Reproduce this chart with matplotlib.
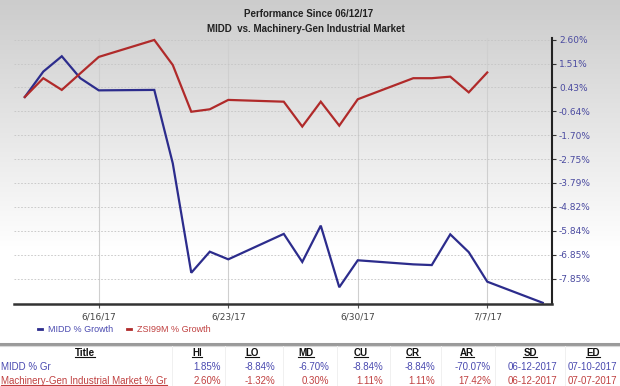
import numpy as np
import pandas as pd
import matplotlib
matplotlib.use("Agg")
import matplotlib.pyplot as plt
from matplotlib.lines import Line2D

# data (% growth since 06/12/17)
dates = ['2017-06-12', '2017-06-13', '2017-06-14', '2017-06-15', '2017-06-16',
         '2017-06-19', '2017-06-20', '2017-06-21', '2017-06-22', '2017-06-23',
         '2017-06-26', '2017-06-27', '2017-06-28', '2017-06-29', '2017-06-30',
         '2017-07-03', '2017-07-04', '2017-07-05', '2017-07-06', '2017-07-07',
         '2017-07-10']
midd = [0.0, 1.15, 1.85, 0.85, 0.30, 0.32, -2.94, -7.60, -6.72, -7.04,
        -5.97, -7.15, -5.62, -8.20, -7.08, -7.25, -7.28, -5.99, -6.74, -7.97,
        -8.84]
zsi = [0.0, 0.85, 0.32, 1.07, 1.82, 2.60, 1.45, -0.66, -0.55, -0.13,
       -0.21, -1.32, -0.21, -1.28, -0.10, 0.85, 0.85, 0.92, 0.21, 1.11]

y_ticks = [2.60, 1.51, 0.43, -0.64, -1.70, -2.75, -3.79, -4.82, -5.84, -6.85, -7.85]
x_ticks = ['2017-06-16', '2017-06-23', '2017-06-30', '2017-07-07']
x_labels = ['6/16/17', '6/23/17', '6/30/17', '7/7/17']

tbl_head = ['Title', 'HI', 'LO', 'MD', 'CU', 'CR', 'AR', 'SD', 'ED']
tbl_midd = ['MIDD % Gr', '1.85%', '-8.84%', '-6.70%', '-8.84%', '-8.84%', '-70.07%', '06-12-2017', '07-10-2017']
tbl_zsi = ['Machinery-Gen Industrial Market % Gr', '2.60%', '-1.32%', '0.30%', '1.11%', '1.11%', '17.42%', '06-12-2017', '07-07-2017']

BLUE = '#2c2c8c'
RED = '#b02a2a'
TICKC = '#4a4aa0'

W, H = 620, 386
fig = plt.figure(figsize=(W / 100, H / 100), dpi=100)

# background gradient (grey on top fading to white)
bg = fig.add_axes([0, 0, 1, 1], zorder=-10)
grad = np.ones((H, 1))
top = 0.80
for i in range(H):
    t = min(i / 250.0, 1.0)
    grad[i, 0] = top + (1 - top) * t
bg.imshow(np.dstack([grad] * 3), aspect='auto', extent=[0, 1, 0, 1])
bg.set_axis_off()

def fx(px):
    return px / W

def fy(py):
    return 1 - py / H

ax = fig.add_axes([fx(14), fy(304), fx(552) - fx(14), fy(38) - fy(304)])
ax.patch.set_alpha(0)

d = pd.to_datetime(dates)
ax.plot(d, [1 + v / 100 for v in midd], color=BLUE, lw=1.6, solid_joinstyle='miter')
ax.plot(d[:len(zsi)], [1 + v / 100 for v in zsi], color=RED, lw=1.6, solid_joinstyle='miter')

ax.set_yscale('log')
ax.set_ylim(0.91111, 1.0269)
x0 = pd.Timestamp('2017-06-12')
ax.set_xlim(x0 - pd.Timedelta(hours=14), x0 + pd.Timedelta(hours=684))

ax.yaxis.tick_right()
ax.set_yticks([1 + t / 100 for t in y_ticks])
ax.set_yticklabels(['%.2f%%' % t for t in y_ticks])
ax.yaxis.set_minor_locator(matplotlib.ticker.NullLocator())
ax.set_xticks(pd.to_datetime(x_ticks))
ax.set_xticklabels(x_labels)
ax.xaxis.set_minor_locator(matplotlib.ticker.NullLocator())

ax.tick_params(axis='y', colors='#333333', labelcolor=TICKC, labelsize=6.5,
               length=3, width=0.8, pad=2)
ax.tick_params(axis='x', colors='#555555', labelcolor='#444444', labelsize=6.5,
               length=3, width=0.8, pad=3)
for lab in ax.get_xticklabels() + ax.get_yticklabels():
    lab.set_fontfamily('DejaVu Sans')

ax.grid(axis='y', color='#c4c4c4', ls=(0, (2, 2)), lw=0.6)
ax.grid(axis='x', color='#cfcfcf', ls='-', lw=0.8)
for s in ['left', 'top']:
    ax.spines[s].set_visible(False)
ax.spines['right'].set_color('#222222')
ax.spines['right'].set_linewidth(1.5)
ax.spines['bottom'].set_color('#333333')
ax.spines['bottom'].set_linewidth(1.8)

# title
fig.text(0.497, fy(14), 'Performance Since 06/12/17', ha='center', va='center',
         fontsize=7, fontweight='bold', family='Liberation Sans', color='#222222')
fig.text(0.493, fy(29), 'MIDD  vs. Machinery-Gen Industrial Market', ha='center', va='center',
         fontsize=7, fontweight='bold', family='Liberation Sans', color='#222222')

# legend
fig.add_artist(Line2D([fx(38), fx(42)], [fy(329)] * 2, color=BLUE, lw=2))
fig.text(fx(48), fy(329), 'MIDD % Growth', color='#4a4ab0', fontsize=6.5,
         family='Liberation Sans', va='center')
fig.add_artist(Line2D([fx(127), fx(131)], [fy(329)] * 2, color=RED, lw=2))
fig.text(fx(137), fy(329), 'ZSI99M % Growth', color='#c04040', fontsize=6.5,
         family='Liberation Sans', va='center')

# table
fig.add_artist(Line2D([0, 1], [fy(343.5)] * 2, color='#9a9a9a', lw=2.2))
fig.add_artist(Line2D([0, 1], [fy(345.5)] * 2, color='#d8d8d8', lw=0.8))
for sx in [172, 225, 283, 337, 390, 441, 495, 565]:
    fig.add_artist(Line2D([fx(sx)] * 2, [fy(346), fy(386)], color='#f0f0f0', lw=0.7))

head_x = [85, 197, 252, 306, 361, 413, 467, 530, 593]
val_x = [221, 275, 329, 383, 435, 491, 557, 617]
under = []
for hx, h in zip(head_x, tbl_head):
    under.append(fig.text(fx(hx), fy(353), h, ha='center', va='center', fontsize=7,
                          fontweight='bold', family='Liberation Sans', color='#111111'))
fig.text(fx(1), fy(367), tbl_midd[0], ha='left', va='center', fontsize=7,
         family='Liberation Sans', color='#4a4ab0')
under.append(fig.text(fx(1), fy(380.5), tbl_zsi[0], ha='left', va='center', fontsize=7,
                      family='Liberation Sans', color='#c04040'))
for vx, a, b in zip(val_x, tbl_midd[1:], tbl_zsi[1:]):
    fig.text(fx(vx), fy(367), a, ha='right', va='center', fontsize=7,
             family='Liberation Sans', color='#4a4ab0')
    fig.text(fx(vx), fy(380.5), b, ha='right', va='center', fontsize=7,
             family='Liberation Sans', color='#c04040')

# underline header and second row title
fig.canvas.draw()
r = fig.canvas.get_renderer()
for t in under:
    bb = t.get_window_extent(r)
    y = (bb.y0 + 1) / H
    fig.add_artist(Line2D([bb.x0 / W, bb.x1 / W], [y, y], color=t.get_color(), lw=0.8))

fig.savefig('out.png', dpi=100)
